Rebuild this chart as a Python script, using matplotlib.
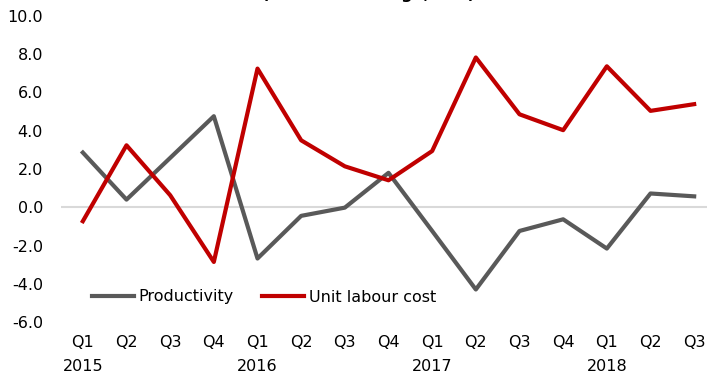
import numpy as np
import matplotlib.pyplot as plt

quarters = ["Q1", "Q2", "Q3", "Q4", "Q1", "Q2", "Q3", "Q4",
            "Q1", "Q2", "Q3", "Q4", "Q1", "Q2", "Q3"]
years = ["2015", "", "", "", "2016", "", "", "",
         "2017", "", "", "", "2018", "", ""]
productivity = [2.86, 0.40, 2.58, 4.76, -2.68, -0.45, -0.02, 1.80,
                -1.24, -4.30, -1.24, -0.63, -2.16, 0.72, 0.57]
unit_labour_cost = [-0.73, 3.24, 0.63, -2.86, 7.25, 3.50, 2.14, 1.41,
                    2.94, 7.83, 4.86, 4.03, 7.37, 5.04, 5.39]
yticks = [10, 8, 6, 4, 2, 0, -2, -4, -6]

plt.rcParams['font.family'] = ['DejaVu Sans']
W, H = 707, 381
fig = plt.figure(figsize=(W / 100, H / 100), dpi=100)

# axes in pixel terms: x from 61 to 716 (runs past the right edge), y from 16 (10.0) to 322 (-6.0)
ax = fig.add_axes([61 / W, (H - 322) / H, (716 - 61) / W, (322 - 16) / H])
x = np.arange(len(quarters))

ax.axhline(0, color="#d9d9d9", lw=1.5, zorder=1)
ax.plot(x, productivity, color="#595959", lw=3, label="Productivity", zorder=2)
ax.plot(x, unit_labour_cost, color="#c00000", lw=3, label="Unit labour cost", zorder=3)

ax.set_xlim(-0.5, len(quarters) - 0.5)
ax.set_ylim(-6, 10)
ax.set_yticks(yticks)
ax.set_yticklabels([f"{v:.1f}" for v in yticks], fontsize=11.5)
ax.set_xticks(x)
ax.set_xticklabels([q + ("\n" + y if y else "") for q, y in zip(quarters, years)],
                   fontsize=11.5, linespacing=1.7)
ax.tick_params(axis="x", length=0, pad=9.5)
ax.tick_params(axis="y", length=0, pad=13)
for s in ax.spines.values():
    s.set_visible(False)

ax.legend(loc="center left", bbox_to_anchor=(92 / W, 1 - 297 / H),
          bbox_transform=fig.transFigure, ncol=2, frameon=False,
          fontsize=11.5, handlelength=2.6, handletextpad=0.3,
          columnspacing=1.8, borderaxespad=0, borderpad=0)

# title sits mostly above the canvas, only its descenders show
fig.text(368 / W, 1 + 1 / H, "(annual % change, s.a.)", ha="center", va="baseline",
         fontsize=11.5, fontweight="bold")

fig.savefig("out.png", dpi=100)
